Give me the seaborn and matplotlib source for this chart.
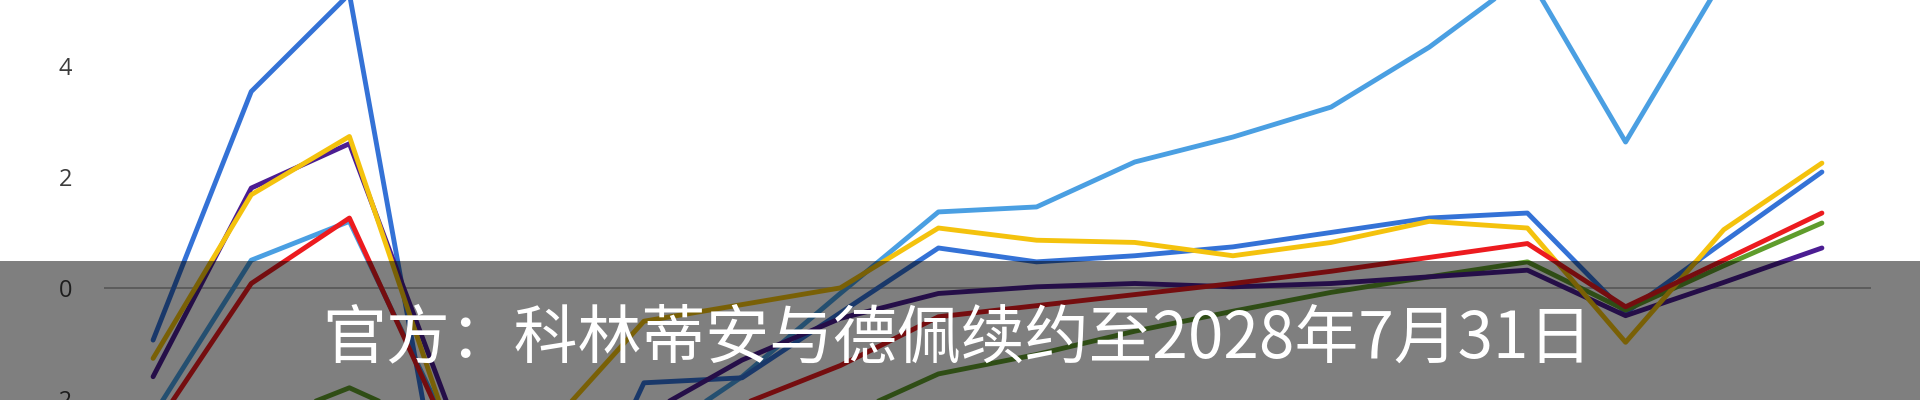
import matplotlib
matplotlib.use("Agg")
import matplotlib.pyplot as plt
from matplotlib.patches import Rectangle
import pandas as pd
import seaborn as sns

# 轮次（横轴类别，图中未显示标签）
ROUNDS = [1, 2, 3, 4, 5, 6, 7, 8, 9, 10, 11, 12, 13, 14, 15, 16, 17, 18]

# 各条折线的数值（从图上估读，超出画面的部分为估计值）
light_blue = [-2.3, 0.5, 1.2, -2.5, -3.0, -2.8, -1.6, -0.1, 1.37, 1.46, 2.27, 2.72, 3.26, 4.34, 5.65, 2.63, 5.6, 6.2]
mid_blue = [-0.94, 3.54, 5.3, -4.5, -5.5, -1.71, -1.62, -0.45, 0.72, 0.47, 0.58, 0.74, 1.0, 1.26, 1.35, -0.45, 0.83, 2.09]
green = [-2.9, -2.5, -1.8, -2.6, -3.0, -3.0, -2.8, -2.35, -1.55, -1.2, -0.78, -0.42, -0.08, 0.2, 0.47, -0.4, 0.4, 1.17]
purple = [-1.6, 1.8, 2.6, -2.1, -2.6, -2.3, -1.3, -0.55, -0.1, 0.02, 0.08, 0.02, 0.08, 0.2, 0.32, -0.5, 0.1, 0.72]
yellow = [-1.27, 1.68, 2.73, -2.5, -2.56, -0.6, -0.3, 0.0, 1.08, 0.86, 0.82, 0.58, 0.82, 1.2, 1.08, -0.98, 1.05, 2.25]
red = [-2.56, 0.08, 1.26, -2.6, -2.8, -2.5, -2.1, -1.4, -0.52, -0.32, -0.12, 0.08, 0.3, 0.55, 0.8, -0.34, 0.5, 1.35]

SERIES_NAMES = ["light_blue", "mid_blue", "green", "purple", "yellow", "red"]
SERIES_COLORS = ["#4a9fe2", "#3472d6", "#5f9c2c", "#4b1d92", "#f4c20d", "#ec1b1f"]

Y_TICKS = [-2, 0, 2, 4]
Y_TICK_LABELS = ["-2", "0", "2", "4"]

TITLE = "官方：科林蒂安与德佩续约至2028年7月31日"


def build_df():
    values = [light_blue, mid_blue, green, purple, yellow, red]
    frames = []
    for name, vals in zip(SERIES_NAMES, values):
        frames.append(pd.DataFrame({"round": ROUNDS, "value": vals, "series": name}))
    return pd.concat(frames, ignore_index=True)


def main():
    sns.set_style("white")
    plt.rcParams['font.family'] = ['Noto Sans CJK SC', 'DejaVu Sans']

    df = build_df()

    fig = plt.figure(figsize=(19.2, 4), dpi=100)
    ax = fig.add_axes([104 / 1920, 0, 1767 / 1920, 1])

    sns.lineplot(data=df, x="round", y="value", hue="series", hue_order=SERIES_NAMES,
                 palette=dict(zip(SERIES_NAMES, SERIES_COLORS)), linewidth=3.5,
                 legend=False, ax=ax, sort=False)
    for line in ax.lines:
        line.set_solid_joinstyle("round")
        line.set_solid_capstyle("round")

    ax.axhline(0, color="#b8b8b8", lw=1.4, zorder=0)

    ax.set_xlim(0.5, 18.5)
    ax.set_ylim(-2.02, 5.19)
    ax.set_xticks([])
    ax.set_yticks(Y_TICKS)
    ax.set_yticklabels(Y_TICK_LABELS, fontsize=17, color="#3c3c3c")
    ax.tick_params(axis="y", length=0, pad=23)
    for tl in ax.get_yticklabels():
        tl.set_family(["Open Sans", "DejaVu Sans"])
    ax.set_xlabel("")
    ax.set_ylabel("")
    for s in ax.spines.values():
        s.set_visible(False)

    # 底部半透明字幕条
    fig.add_artist(Rectangle((0, 0), 1, 139 / 400, transform=fig.transFigure,
                             facecolor="black", edgecolor="none", alpha=0.5, zorder=10))
    fig.text(0.4985, 0.153, TITLE, color="white", fontsize=46,
             ha="center", va="center", zorder=11)

    fig.savefig("out.png", dpi=100)


if __name__ == "__main__":
    main()
